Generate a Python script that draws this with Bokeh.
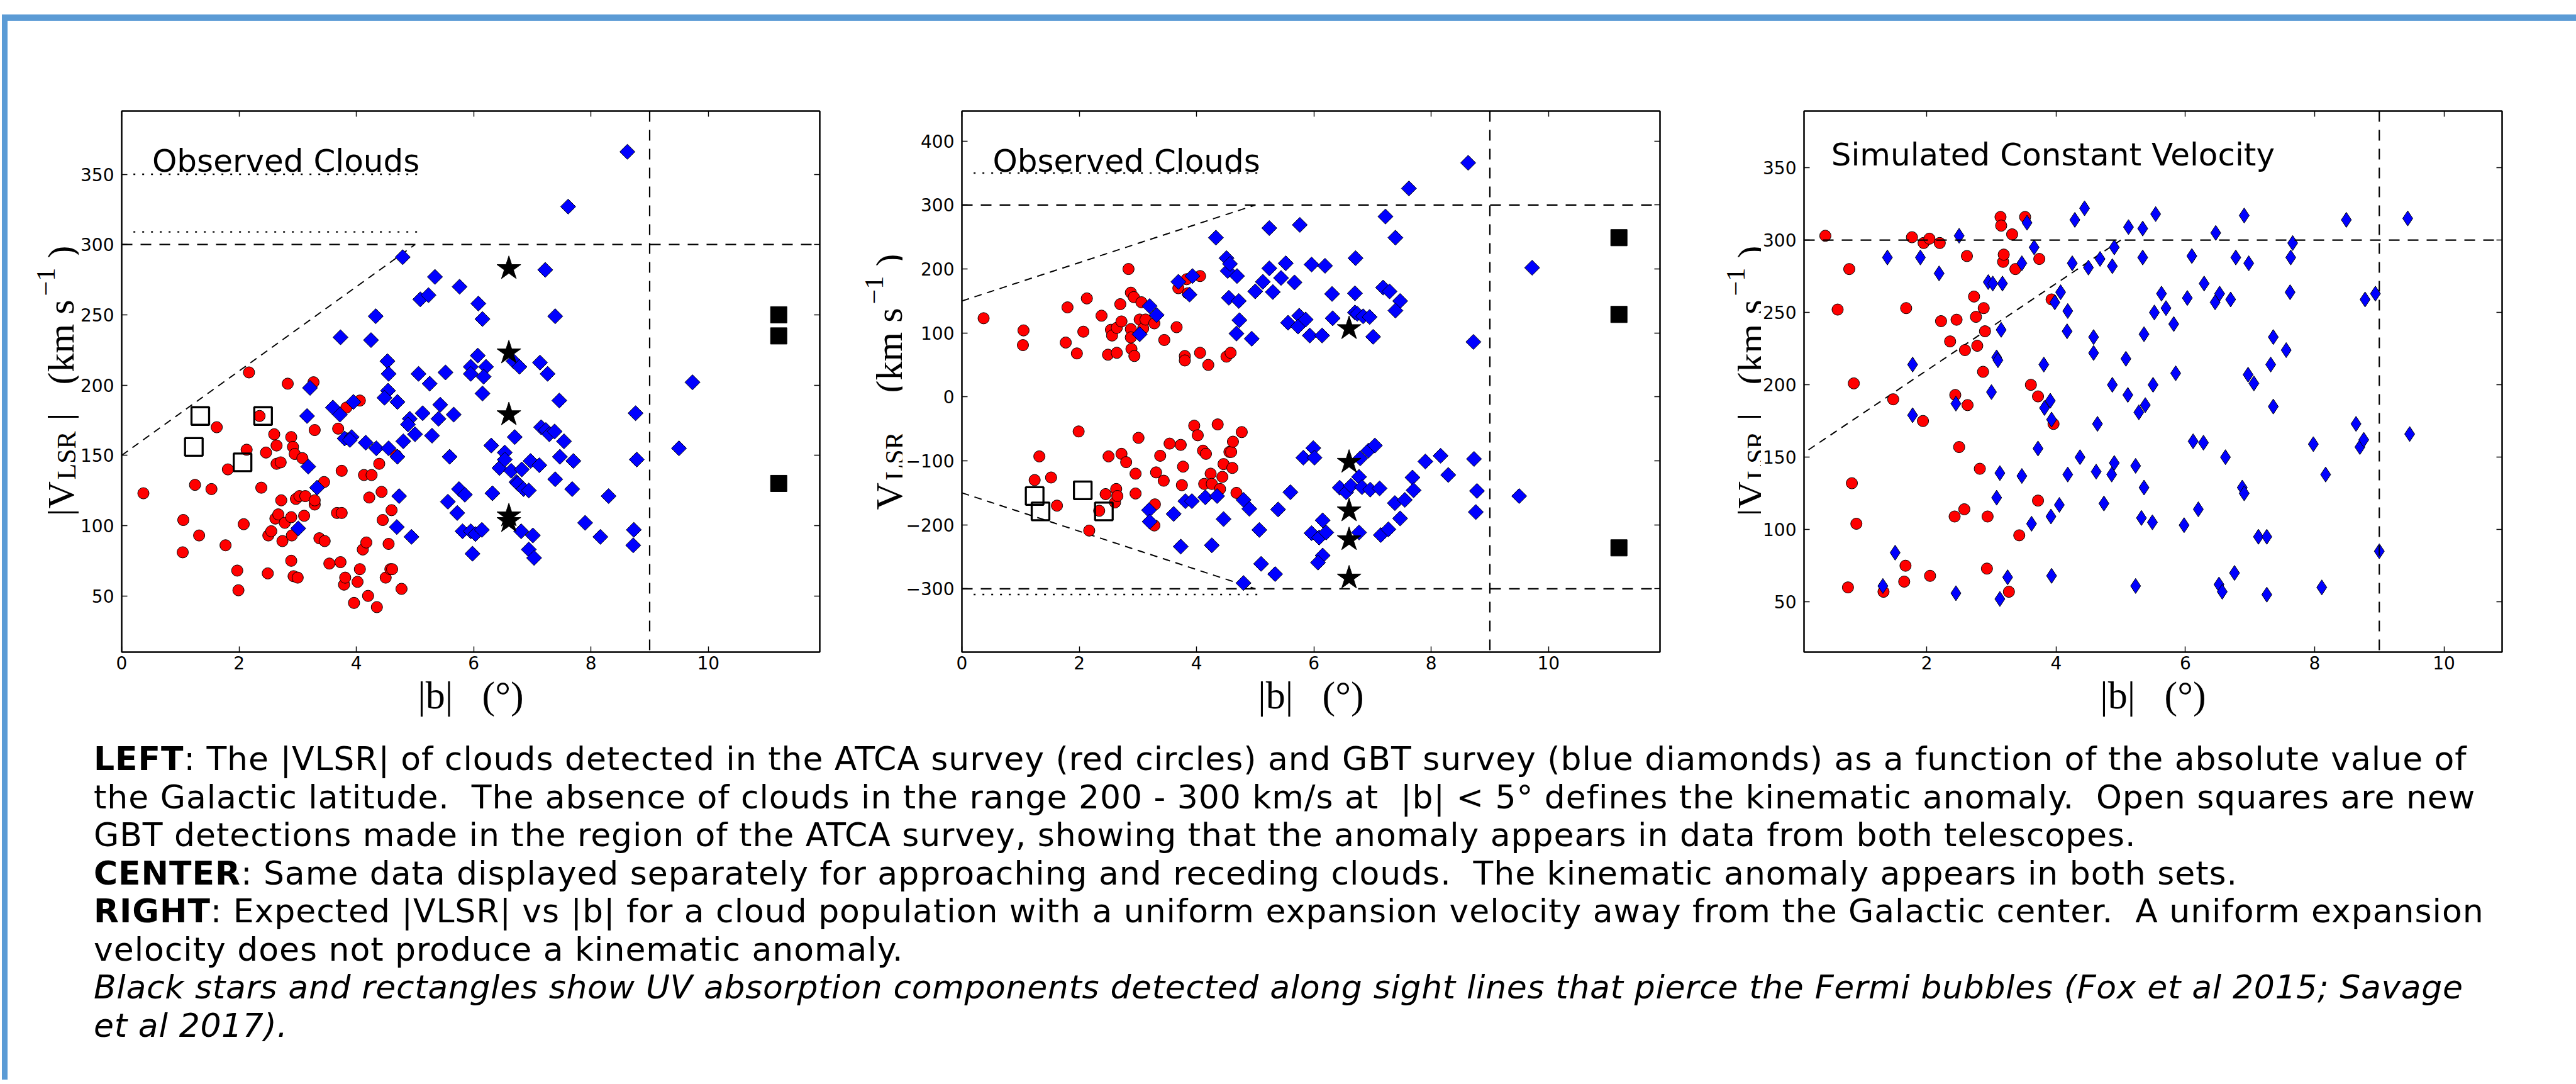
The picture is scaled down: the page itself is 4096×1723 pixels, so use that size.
import numpy as np
from bokeh.plotting import figure
from bokeh.models import LinearAxis, FixedTicker, Label, Div, Span, Range1d
from bokeh.layouts import row, column
from bokeh.embed import file_html
from bokeh.resources import INLINE

# ---------------- data ----------------
# LEFT panel: |VLSR| vs |b|
atca_left_b = [0.37, 1.05, 1.04, 1.32, 1.25, 1.53, 1.62, 1.81, 1.77, 1.97,
               1.99, 2.08, 2.13, 2.17, 2.35, 2.38, 2.46, 2.50, 2.49, 2.55,
               2.60, 2.62, 2.64, 2.64, 2.67, 2.71, 2.72, 2.74, 2.78, 2.83,
               2.89, 2.89, 2.89, 2.90, 2.92, 2.93, 2.95, 2.97, 3.00, 3.03,
               3.08, 3.11, 3.13, 3.27, 3.29, 3.29, 3.29, 3.37, 3.45, 3.46,
               3.54, 3.67, 3.69, 3.73, 3.75, 3.75, 3.79, 3.81, 3.83, 3.84,
               3.96, 4.02, 4.06, 4.06, 4.11, 4.13, 4.17, 4.20, 4.26, 4.22,
               4.35, 4.39, 4.43, 4.45, 4.50, 4.55, 4.60, 4.58, 4.61, 4.68,
               4.77]
atca_left_v = [123, 104, 81, 93, 129, 126, 170, 140, 86, 68,
               54, 101, 154, 209, 178, 127, 152, 93, 66, 96,
               165, 105, 157, 144, 108, 145, 118, 89, 102, 201,
               163, 106, 75, 93, 156, 64, 151, 119, 63, 121,
               148, 107, 121, 202, 168, 115, 118, 91, 131, 89,
               73, 109, 169, 74, 109, 139, 58, 63, 184, 162,
               45, 60, 189, 69, 83, 136, 88, 50, 136, 120,
               42, 144, 124, 104, 63, 87, 111, 69, 69, 150,
               55]
gbt_left_b = [4.79, 5.34, 5.09, 5.23, 5.76, 6.08, 6.15, 7.22, 7.61, 8.62,
              7.39, 3.73, 4.33, 4.25, 4.53, 4.55, 4.54, 4.48, 4.70, 5.06,
              5.25, 5.52, 6.07, 5.95, 6.21, 5.95, 6.17, 6.15, 6.68, 6.78,
              7.13, 7.26, 7.46, 3.21, 3.16, 3.18, 3.60, 3.72, 3.80, 3.95,
              3.92, 3.89, 4.16, 4.34, 4.55, 4.70, 4.80, 4.91, 4.88, 5.13,
              5.40, 5.43, 5.66, 5.29, 5.00, 5.59, 6.30, 6.44, 6.53, 6.53,
              6.64, 6.70, 6.82, 6.73, 6.75, 6.85, 6.94, 6.97, 7.12, 7.15,
              7.23, 7.29, 7.38, 7.54, 7.47, 7.70, 7.39, 7.68, 8.30, 8.76,
              8.78, 9.73, 9.50, 6.32, 5.75, 5.85, 5.56, 5.72, 5.81, 5.95,
              6.03, 6.14, 5.98, 3.33, 3.01, 4.73, 4.69, 4.94, 6.81, 7.01,
              6.94, 7.03, 7.90, 8.16, 8.73, 8.72]
gbt_left_v = [291, 277, 261, 264, 270, 258, 247, 282, 327, 366,
              249, 234, 249, 232, 217, 208, 196, 191, 188, 208,
              201, 209, 221, 213, 213, 208, 206, 194, 217, 213,
              216, 208, 189, 198, 178, 142, 184, 179, 162, 188,
              163, 161, 159, 155, 155, 149, 160, 176, 172, 180,
              176, 186, 179, 164, 165, 149, 157, 141, 152, 147,
              139, 163, 140, 131, 130, 126, 125, 146, 143, 170,
              168, 165, 167, 160, 149, 146, 133, 126, 121, 180,
              147, 202, 155, 123, 126, 122, 117, 109, 96, 96,
              94, 97, 80, 127, 98, 121, 99, 92, 96, 93,
              83, 77, 102, 92, 97, 86]
new_gbt_left_b = [1.34, 1.23, 2.06, 2.41]
new_gbt_left_v = [178, 156, 145, 178]
uv_star_left_b = [6.6, 6.6, 6.6, 6.6, 6.6]
uv_star_left_v = [283, 223, 179, 107, 103]
uv_rect_left_b = [11.2, 11.2, 11.2]
uv_rect_left_v = [250, 235, 130]

# CENTER panel: signed VLSR vs |b|
atca_center_b = [0.37, 1.05, 1.04, 1.80, 1.77, 1.96, 2.07, 2.13, 2.38, 2.49,
                 2.54, 2.56, 2.64, 2.64, 2.70, 2.72, 2.84, 2.88, 2.88, 2.88,
                 2.89, 2.93, 2.94, 3.03, 3.06, 3.09, 3.13, 3.28, 3.45, 3.66,
                 3.69, 3.80, 3.80, 3.83, 3.85, 4.06, 4.06, 4.20, 4.51, 4.58,
                 1.99, 1.32, 1.24, 1.52, 1.62, 2.17, 2.34, 2.45, 2.50, 2.61,
                 2.63, 2.65, 2.72, 2.80, 2.96, 2.96, 3.01, 3.29, 3.28, 3.31,
                 3.38, 3.44, 3.54, 3.73, 3.77, 3.75, 3.96, 4.02, 4.11, 4.16,
                 4.13, 4.24, 4.26, 4.36, 4.40, 4.44, 4.46, 4.56, 4.59, 4.61,
                 4.62, 4.68, 4.77]
atca_center_v = [123, 104, 81, 140, 85, 68, 102, 154, 127, 66,
                 105, 96, 108, 69, 145, 118, 200, 163, 106, 93,
                 75, 156, 64, 121, 148, 107, 121, 115, 89, 109,
                 170, 64, 57, 184, 162, 69, 189, 50, 63, 69,
                 -54, -93, -130, -126, -170, -209, -178, -152, -93, -165,
                 -144, -155, -89, -102, -120, -151, -64, -168, -201, -118,
                 -92, -131, -73, -75, -109, -138, -45, -60, -84, -89,
                 -136, -120, -136, -43, -144, -125, -105, -86, -86, -111,
                 -70, -150, -55]
gbt_center_b = [3.03, 3.20, 3.32, 3.69, 3.88, 3.93, 4.33, 4.51, 4.53, 4.57,
                4.55, 4.69, 4.72, 4.73, 4.68, 4.94, 5.00, 5.13, 5.24, 5.24,
                5.30, 5.52, 5.44, 5.67, 5.76, 5.56, 5.75, 5.73, 5.86, 5.96,
                6.19, 5.93, 6.14, 6.31, 6.32, 6.71, 6.70, 6.70, 6.74, 6.84,
                6.95, 7.01, 7.22, 7.62, 8.63, 7.39, 7.18, 7.29, 7.47, 7.39,
                8.72, 9.72,
                3.19, 3.20, 3.61, 3.73, 3.81, 3.92, 4.15, 4.35, 4.26, 4.46,
                4.80, 4.90, 4.80, 5.07, 5.10, 5.34, 5.39, 5.60, 5.82, 5.99,
                6.01, 5.96, 6.09, 6.21, 6.15, 6.15, 6.07, 6.44, 6.55, 6.63,
                6.77, 6.82, 6.96, 7.12, 6.79, 6.93, 7.04, 6.77, 7.14, 7.27,
                7.38, 7.55, 7.47, 7.68, 7.70, 7.90, 8.16, 8.29, 8.73, 8.78,
                8.76, 9.50]
gbt_center_v = [98, 142, 128, 180, 160, 189, 249, 217, 197, 208,
                155, 189, 150, 120, 99, 91, 165, 180, 201, 264,
                164, 209, 186, 179, 269, 116, 127, 110, 121, 207,
                205, 96, 96, 161, 123, 217, 162, 132, 130, 126,
                125, 94, 282, 326, 366, 249, 171, 165, 150, 135,
                86, 202,
                -177, -195, -183, -234, -163, -163, -157, -155, -232, -191,
                -161, -175, -291, -208, -261, -277, -176, -149, -95, -80,
                -95, -213, -220, -212, -193, -248, -259, -142, -149, -139,
                -125, -141, -145, -143, -96, -84, -76, -212, -216, -207,
                -166, -161, -190, -126, -146, -101, -92, -122, -97, -147,
                -180, -155]
new_gbt_center_b = [1.24, 1.34, 2.06, 2.42]
new_gbt_center_v = [-155, -179, -146, -179]
uv_star_center_b = [6.6, 6.6, 6.6, 6.6, 6.6]
uv_star_center_v = [107, -102, -178, -223, -283]
uv_rect_center_b = [11.2, 11.2, 11.2]
uv_rect_center_v = [249, 129, -236]

# RIGHT panel: simulated constant expansion velocity
sim_atca_b = [0.43, 0.62, 0.80, 0.87, 0.84, 0.91, 0.78, 1.33, 1.48, 1.65,
              1.67, 1.68, 1.77, 1.94, 1.95, 2.04, 2.05, 2.20, 2.22, 2.36,
              2.44, 2.43, 2.46, 2.50, 2.58, 2.59, 2.62, 2.63, 2.73, 2.76,
              2.78, 2.82, 2.88, 2.87, 2.90, 2.93, 2.94, 3.14, 3.15, 3.18,
              3.19, 3.27, 3.32, 3.37, 3.43, 3.52, 3.61, 3.72, 3.72, 3.74,
              3.93, 3.96]
sim_atca_v = [303, 252, 280, 201, 132, 104, 60, 57, 190, 64,
              75, 253, 302, 175, 298, 301, 68, 298, 244, 230,
              193, 109, 245, 157, 114, 224, 289, 186, 261, 247,
              227, 142, 253, 209, 237, 73, 109, 316, 310, 285,
              290, 57, 304, 280, 96, 316, 200, 192, 120, 287,
              259, 173]
sim_gbt_b = [1.39, 1.90, 2.19, 2.50, 1.78, 1.78, 2.45, 1.51, 1.32, 2.45,
             2.95, 3.02, 3.17, 3.15, 3.08, 3.10, 3.00, 3.08, 3.13, 3.13,
             3.25, 3.47, 3.55, 3.66, 3.47, 3.62, 3.72, 3.81, 3.82, 3.91,
             3.93, 3.92, 3.93, 3.98, 4.07, 4.05, 4.17, 4.18, 4.18, 4.25,
             4.29, 4.37, 4.44, 4.50, 4.58, 4.58, 4.62, 4.64, 4.68, 4.74,
             4.87, 4.90, 4.87, 4.90, 4.86, 5.12, 5.08, 5.11, 5.23, 5.23,
             5.34, 5.34, 5.36, 5.28, 5.38, 5.36, 5.32, 5.54, 5.52, 5.50,
             5.49, 5.63, 5.70, 5.82, 5.85, 6.03, 6.10, 6.12, 6.20, 5.98,
             6.29, 6.28, 6.47, 6.53, 6.46, 6.62, 6.70, 6.52, 6.57, 6.78,
             6.91, 6.98, 6.97, 6.76, 6.88, 6.91, 7.06, 7.32, 7.36, 7.36,
             7.56, 7.26, 7.13, 7.26, 7.62, 7.63, 7.66, 7.98, 8.17, 8.11,
             8.49, 8.64, 8.70, 8.76, 8.78, 8.94, 9.00, 9.44, 9.47]
sim_gbt_v = [288, 288, 277, 303, 214, 179, 187, 84, 61, 56,
             271, 270, 270, 238, 219, 217, 195, 122, 139, 52,
             67, 284, 312, 295, 137, 104, 156, 214, 184, 189,
             176, 109, 68, 257, 264, 117, 237, 251, 138, 284,
             314, 150, 322, 281, 233, 222, 140, 173, 287, 118,
             282, 295, 200, 146, 138, 309, 218, 193, 144, 61,
             308, 288, 235, 181, 186, 129, 108, 318, 250, 200,
             105, 263, 253, 242, 208, 260, 289, 161, 114, 103,
             270, 160, 305, 263, 257, 150, 259, 62, 57, 288,
             317, 284, 207, 70, 129, 125, 201, 214, 233, 185,
             224, 55, 95, 95, 264, 288, 298, 159, 138, 60,
             314, 173, 157, 162, 259, 263, 85, 315, 166]

# reference lines
anomaly_edge_b = [0, 5]
anomaly_edge_v = [150, 300]
anomaly_edge_neg_v = [-150, -300]
vmax_line = 300
b_cut = 9
dotted_b = [0.2, 5.15]
dotted_left_levels = [350, 309]
dotted_center_levels = [350, -309]

left_xticks = [0, 2, 4, 6, 8, 10]
left_yticks = [50, 100, 150, 200, 250, 300, 350]
center_yticks = [-300, -200, -100, 0, 100, 200, 300, 400]
right_xticks = [2, 4, 6, 8, 10]
right_yticks = [50, 100, 150, 200, 250, 300, 350]

# ---------------- styling ----------------
RED = "#FF0000"
BLUE = "#0000FF"
SLIDE_BLUE = "#5B9BD5"
FW, FH = 1110, 860
TOP, BOT, RIGHT = 143, 130, 20
PH = TOP + FH + BOT
TICK_FONT = "DejaVu Sans"
SERIF = "Liberation Serif"
NB = "\u00a0"


def make_panel(xr, yr, left, xticks, yticks, overrides=None):
    p = figure(width=left + FW + RIGHT, height=PH,
               x_range=Range1d(*xr), y_range=Range1d(*yr),
               x_axis_location=None, y_axis_location=None,
               output_backend="svg", toolbar_location=None,
               min_border_left=left, min_border_right=RIGHT,
               min_border_top=TOP, min_border_bottom=BOT)
    p.grid.visible = False
    p.outline_line_color = "black"
    p.outline_line_width = 2
    p.background_fill_color = "white"
    p.border_fill_color = "white"
    for loc, ticks, labelled in [("below", xticks, True), ("above", xticks, False),
                                 ("left", yticks, True), ("right", yticks, False)]:
        ax = LinearAxis(ticker=FixedTicker(ticks=ticks))
        ax.major_tick_in = 9
        ax.major_tick_out = 0
        ax.major_tick_line_width = 1.4
        ax.minor_tick_line_color = None
        ax.axis_line_width = 2
        if labelled:
            ax.major_label_text_font = TICK_FONT
            ax.major_label_text_font_size = "28px"
            ax.major_label_text_color = "black"
            ax.major_label_standoff = 6 if loc == "below" else 12
            if overrides and loc == "left":
                ax.major_label_overrides = overrides
        else:
            ax.major_label_text_font_size = "1px"
            ax.major_label_text_color = None
            ax.major_label_standoff = 0
        if loc == "below":
            ax.axis_label = "|b|" + NB * 3 + "(°)"
            ax.axis_label_text_font = SERIF
            ax.axis_label_text_font_size = "62px"
            ax.axis_label_text_font_style = "normal"
            ax.axis_label_text_color = "black"
            ax.axis_label_standoff = 4
        p.add_layout(ax, loc)
    return p


def make_label_fig(width, pieces, base_x, start_y):
    # frame aligned with the neighbouring panel's frame; coordinates are frame pixels
    f = figure(width=width, height=PH, x_range=Range1d(0, width), y_range=Range1d(0, FH),
               x_axis_location=None, y_axis_location=None,
               output_backend="svg", toolbar_location=None,
               min_border_left=0, min_border_right=0,
               min_border_top=TOP, min_border_bottom=BOT)
    f.grid.visible = False
    f.outline_line_color = None
    f.background_fill_color = "white"
    f.border_fill_color = "white"
    for txt, off, size, shift in pieces:
        f.add_layout(Label(x=base_x + shift, y=start_y + off,
                           text=txt, angle=np.pi / 2, angle_units="rad",
                           text_font=SERIF, text_font_size=f"{size}px",
                           text_baseline="alphabetic", text_align="left", text_color="black"))
    return f


def add_title(p, x, y, txt):
    p.add_layout(Label(x=x, y=y, text=txt, text_font=TICK_FONT, text_font_size="50px",
                       text_baseline="alphabetic", text_align="left", text_color="black"))


def vline(p):
    p.add_layout(Span(location=b_cut, dimension="height", line_color="black",
                      line_width=2.2, line_dash="17 13"))


def hline(p, loc):
    p.add_layout(Span(location=loc, dimension="width", line_color="black",
                      line_width=2.2, line_dash="17 13"))


def edge(p, bv, vv):
    p.line(bv, vv, line_color="black", line_width=2, line_dash="12 9")


def dotted(p, levels):
    for lev in levels:
        p.line(dotted_b, [lev, lev], line_color="black", line_width=2.4, line_dash="3 11")


abs_pieces = [("|V", 0, 60, 0), ("LSR", 58, 42, 9), ("|" + NB * 3 + "(km" + NB + "s", 152, 60, 0),
              ("\u22121", 350, 42, -24), (")", 410, 60, 0)]
sgn_pieces = [("V", 0, 60, 0), ("LSR", 47, 42, 9), ("(km" + NB + "s", 186, 60, 0),
              ("\u22121", 327, 42, -24), (")", 387, 60, 0)]

CIRC, DIAM, THIN, STAR, RECT, OPEN = 18, 17, 24, 40, 26, 28

# ---------- LEFT ----------
lab1 = make_label_fig(113, abs_pieces, 84, 216)
p1 = make_panel((0, 11.9), (10, 395), 68, left_xticks, left_yticks)
dotted(p1, dotted_left_levels)
hline(p1, vmax_line)
vline(p1)
edge(p1, anomaly_edge_b, anomaly_edge_v)
p1.scatter(atca_left_b, atca_left_v, marker="circle", size=CIRC, fill_color=RED, line_color="black", line_width=1)
p1.scatter(gbt_left_b, gbt_left_v, marker="square", angle=np.pi / 4, size=DIAM,
           fill_color=BLUE, line_color="black", line_width=1)
p1.scatter(new_gbt_left_b, new_gbt_left_v, marker="square", size=OPEN, fill_color=None,
           line_color="black", line_width=3.3)
p1.scatter(uv_star_left_b, uv_star_left_v, marker="star", size=STAR, fill_color="black", line_color="black")
p1.scatter(uv_rect_left_b, uv_rect_left_v, marker="square", size=RECT, fill_color="black", line_color="black")
add_title(p1, 0.52, 359.6, "Observed Clouds")

# ---------- CENTER ----------
lab2 = make_label_fig(112, sgn_pieces, 90, 226)
p2 = make_panel((0, 11.9), (-399, 447), 94, left_xticks, center_yticks,
                overrides={-300: "\u2212300", -200: "\u2212200", -100: "\u2212100"})
dotted(p2, dotted_center_levels)
hline(p2, vmax_line)
hline(p2, -vmax_line)
vline(p2)
edge(p2, anomaly_edge_b, anomaly_edge_v)
edge(p2, anomaly_edge_b, anomaly_edge_neg_v)
p2.scatter(atca_center_b, atca_center_v, marker="circle", size=CIRC, fill_color=RED, line_color="black", line_width=1)
p2.scatter(gbt_center_b, gbt_center_v, marker="square", angle=np.pi / 4, size=DIAM,
           fill_color=BLUE, line_color="black", line_width=1)
p2.scatter(new_gbt_center_b, new_gbt_center_v, marker="square", size=OPEN, fill_color=None,
           line_color="black", line_width=3.3)
p2.scatter(uv_star_center_b, uv_star_center_v, marker="star", size=STAR, fill_color="black", line_color="black")
p2.scatter(uv_rect_center_b, uv_rect_center_v, marker="square", size=RECT, fill_color="black", line_color="black")
add_title(p2, 0.525, 369.2, "Observed Clouds")

# ---------- RIGHT ----------
lab3 = make_label_fig(141, abs_pieces, 124, 216)
p3 = make_panel((0.1, 10.9), (15.3, 389.2), 68, right_xticks, right_yticks)
hline(p3, vmax_line)
vline(p3)
edge(p3, anomaly_edge_b, anomaly_edge_v)
p3.scatter(sim_atca_b, sim_atca_v, marker="circle", size=CIRC, fill_color=RED, line_color="black", line_width=1)
p3.scatter(sim_gbt_b, sim_gbt_v, marker="diamond", size=THIN, fill_color=BLUE, line_color="black", line_width=1)
add_title(p3, 0.52, 358.9, "Simulated Constant Velocity")

# ---------- caption ----------
caption_lines = [
    "<b>LEFT</b>: The |VLSR| of clouds detected in the ATCA survey (red circles) and GBT survey (blue diamonds) as a function of the absolute value of",
    "the Galactic latitude.  The absence of clouds in the range 200 - 300 km/s at  |b| &lt; 5° defines the kinematic anomaly.  Open squares are new",
    "GBT detections made in the region of the ATCA survey, showing that the anomaly appears in data from both telescopes.",
    "<b>CENTER</b>: Same data displayed separately for approaching and receding clouds.  The kinematic anomaly appears in both sets.",
    "<b>RIGHT</b>: Expected |VLSR| vs |b| for a cloud population with a uniform expansion velocity away from the Galactic center.  A uniform expansion",
    "velocity does not produce a kinematic anomaly.",
    "<i style=\"letter-spacing:0.65px\">Black stars and rectangles show UV absorption components detected along sight lines that pierce the Fermi bubbles (Fox et al 2015; Savage</i>",
    "<i style=\"letter-spacing:0.65px\">et al 2017).</i>",
]
caption_html = ("<div style=\"font-family:'DejaVu Sans'; font-size:52px; line-height:60.5px; "
                "letter-spacing:0.95px; white-space:pre; color:black; padding-left:137px; padding-top:10px;\">"
                + "<br>".join(caption_lines) + "</div>")
caption = Div(text=caption_html, width=4084, height=550, margin=0)

top_pad = Div(text="", width=4096, height=23, margin=0)
left_pad = Div(text="", width=3, height=1693, margin=0)
left_bar = Div(text="", width=9, height=1693, margin=0, styles={"background-color": SLIDE_BLUE})
top_bar = Div(text="", width=4084, height=10, margin=0, styles={"background-color": SLIDE_BLUE})

content = column(top_bar, row(lab1, p1, lab2, p2, lab3, p3, spacing=0), caption, spacing=0)
layout = column(top_pad, row(left_pad, left_bar, content, spacing=0), spacing=0)

open("out.html", "w").write(file_html(layout, INLINE))
